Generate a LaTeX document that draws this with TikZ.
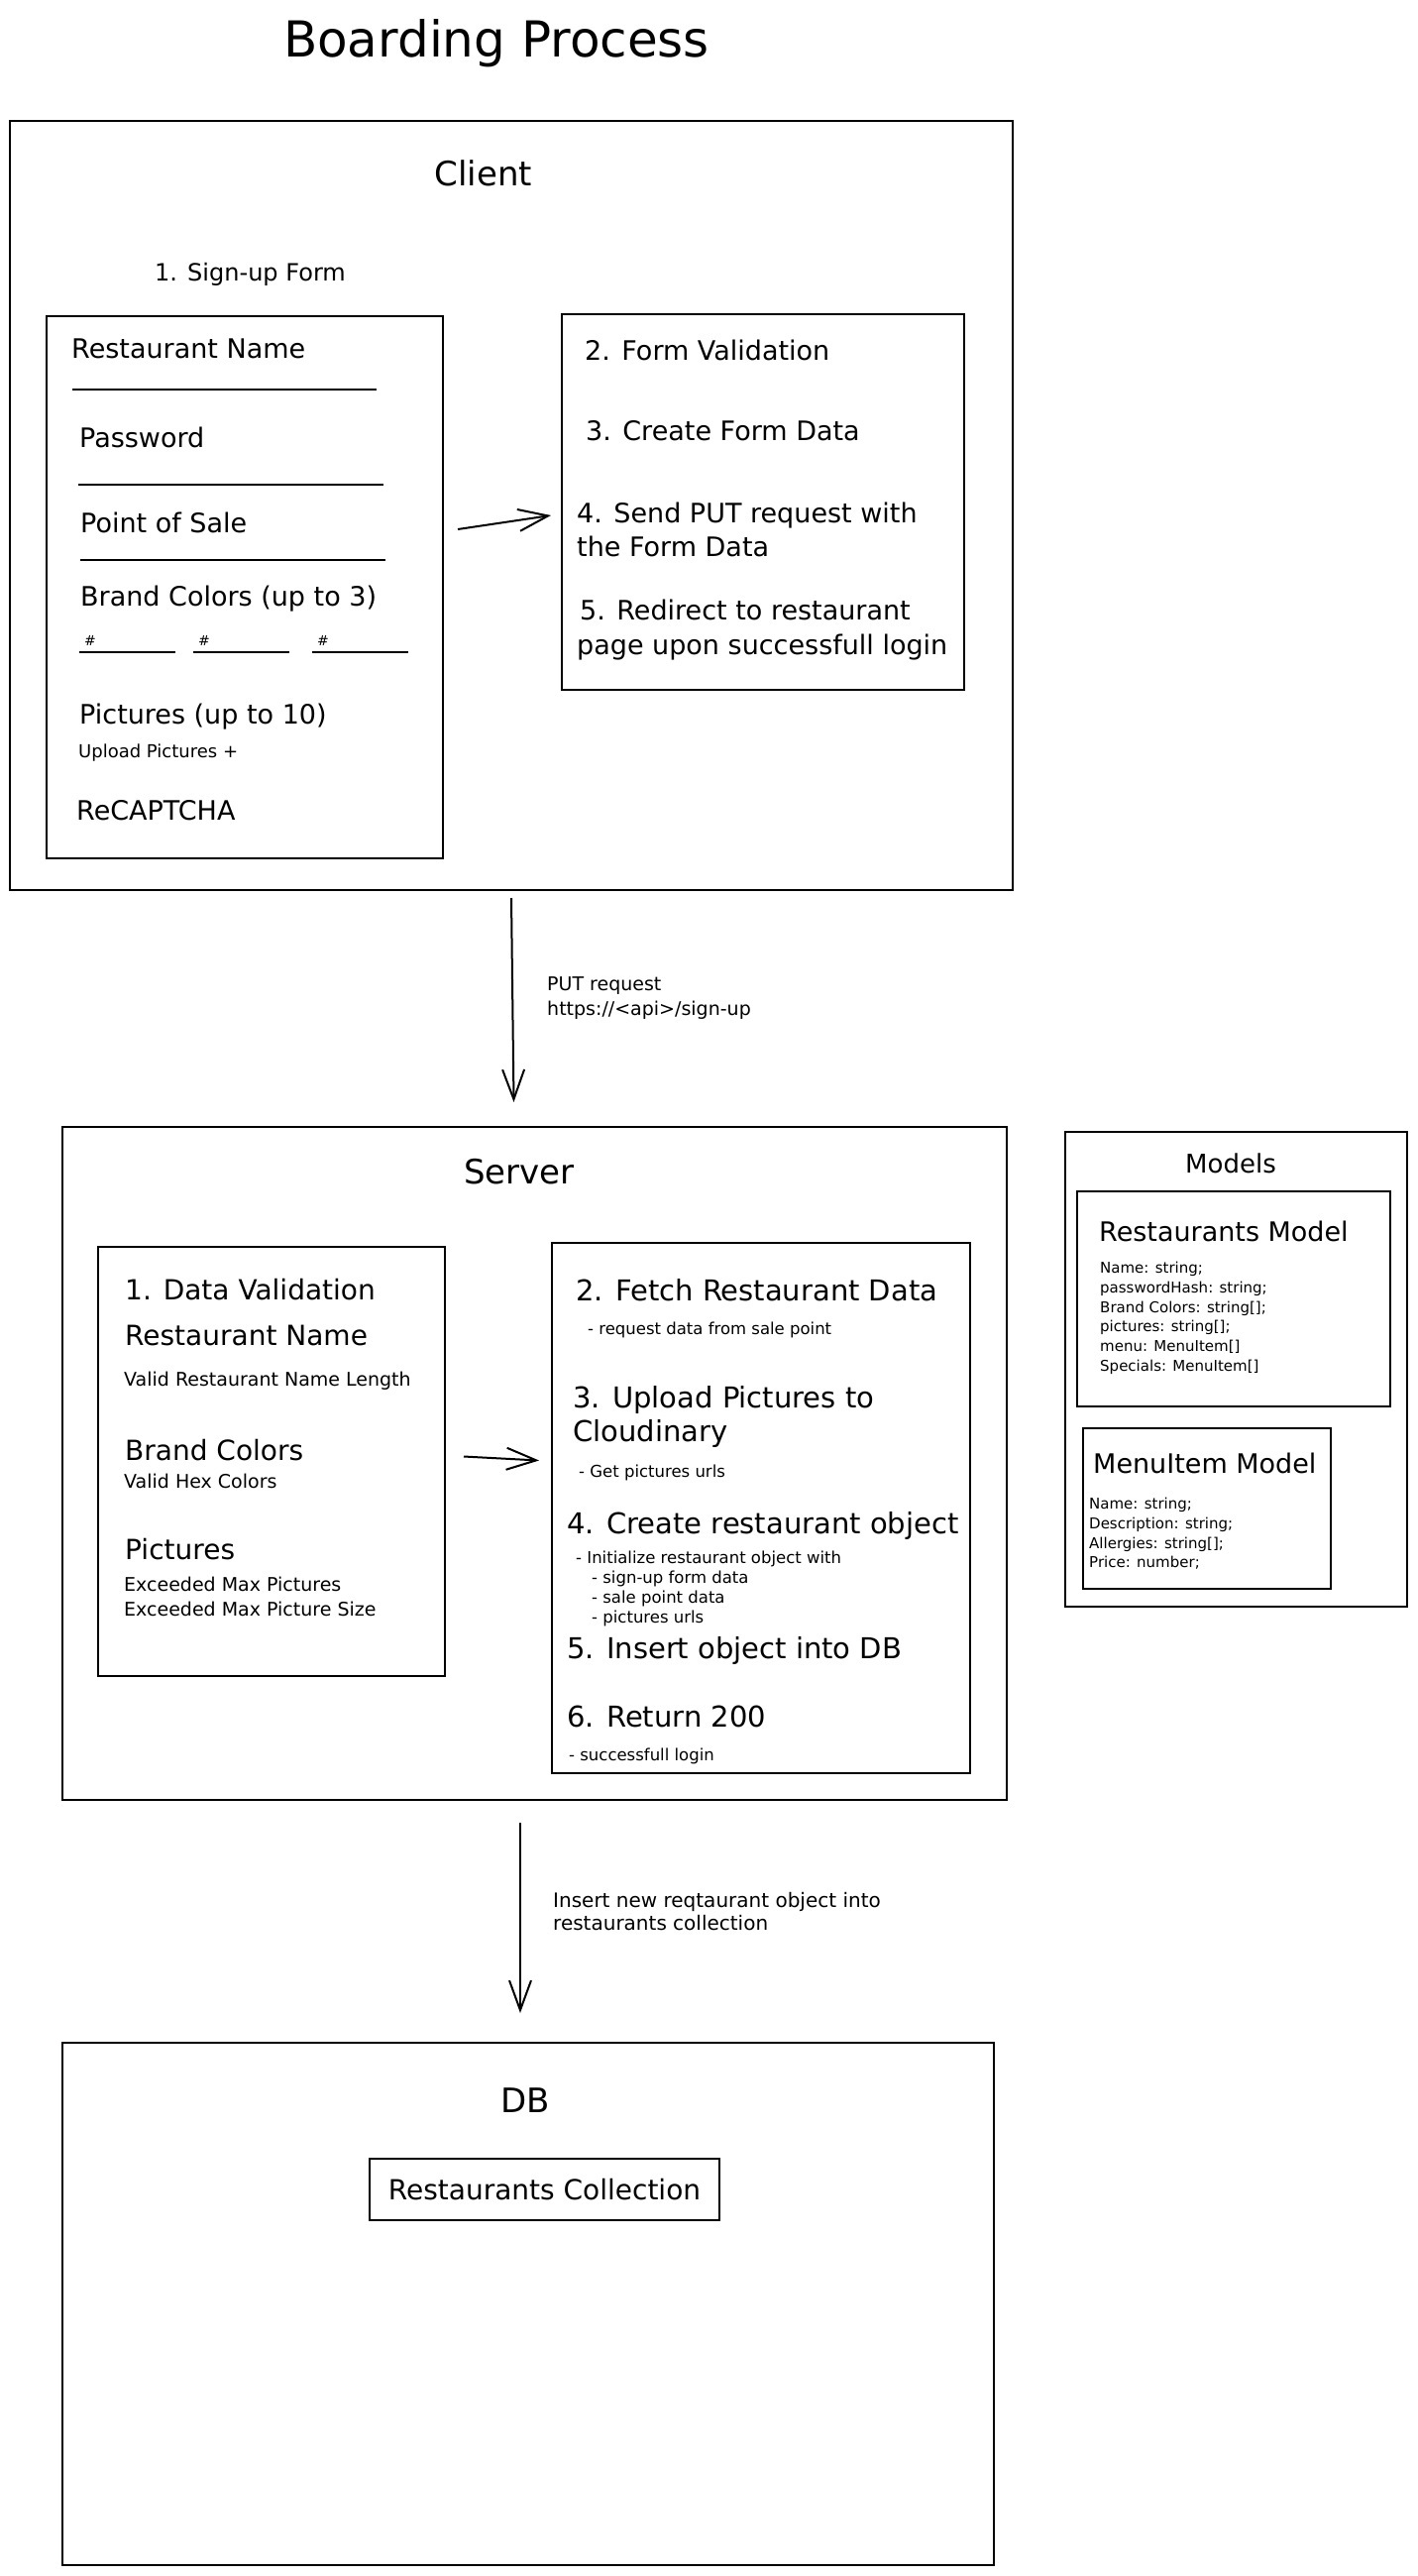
\documentclass[tikz,border=0pt]{standalone}
\usepackage{fontspec}
\setmainfont{DejaVu Sans}
\usetikzlibrary{arrows.meta}

\newcommand\fsz[1]{\fontsize{#1}{#1}\selectfont}

\begin{document}
\begin{tikzpicture}[x = 1pt, y = -1pt, every node/.style = {inner sep = 0pt},
	box/.style = {draw = black, line width = 2pt, rectangle},
	txt/.style = {anchor = mid west, font = \fsz{#1}, yshift = {-0.26*#1 pt}}, txt/.default = 27,
	head/.style = {anchor = mid, font = \fsz{34}, yshift = -9pt},
	arr/.style = {-{Straight Barb[length = 30pt, width = 22pt]}, line width = 2pt}]

	\useasboundingbox (0, 0) rectangle (1430, 2599);

		\node (title) at (501, 57) [anchor = base, font = \fsz{50}] {Boarding Process};

		\node (client)    at ( 516,  510) [box, minimum width = 1012pt, minimum height = 776pt] {};
		\node (clientlbl) at ( 488,  176) [head] {Client};
		\node (signup)    at ( 156,  275) [txt = 24] {1. Sign-up Form};
		\node (form)      at ( 247,  592) [box, minimum width = 400pt, minimum height = 547pt] {};
		\node (steps)     at ( 770,  506) [box, minimum width = 406pt, minimum height = 379pt] {};

		\foreach \name/\x/\y/\txt in {rname/72/352/Restaurant Name, pwd/80/442/Password,
			pos/81/528/Point of Sale, colors/81/602/Brand Colors (up to 3),
			pics/80/721/Pictures (up to 10), captcha/77/818/ReCAPTCHA}
			\node (\name) at (\x, \y) [txt] {\txt};
		\node (upload) at (79, 757) [txt = 18] {Upload Pictures +};

		\foreach \y/\a/\b in {393/73/380, 489/79/387, 565/81/389}
			\draw [line width = 2pt] (\a, \y) -- (\b, \y);
		\foreach \a in {80, 195, 315} {
			\draw [line width = 2pt] (\a, 658) -- ++(97, 0);
			\node (hash\a) at (\a + 11, 646) [font = \fsz{14}] {\#};
		}

		\foreach \name/\x/\y/\txt in {val/590/354/2. Form Validation, fdata/591/435/3. Create Form Data,
			put/582/518/4. Send PUT request with, put2/582/552/the Form Data,
			redir/585/616/5. Redirect to restaurant, redir2/582/651/page upon successfull login}
			\node (\name) at (\x, \y) [txt] {\txt};

		\draw [arr] ([xshift = 14pt, yshift = 58pt]form.east) -- ([xshift = -10pt, yshift = -14pt]steps.west);

		\node (server)    at ( 539.5, 1476.5) [box, minimum width = 953pt, minimum height = 679pt] {};
		\node (serverlbl) at ( 524, 1183) [head] {Server};
		\node (valid)     at ( 274, 1474.5) [box, minimum width = 350pt, minimum height = 433pt] {};
		\node (tasks)     at ( 768, 1521.5) [box, minimum width = 422pt, minimum height = 535pt] {};

		\draw [arr] ([yshift = -7pt]client.south) -- ([xshift = -21pt, yshift = 24pt]server.north);
		\node (putlbl) at (552,  992) [txt = 19] {PUT request};
		\node (urllbl) at (552, 1017) [txt = 19] {https://<api>/sign-up};

		\foreach \name/\y/\txt in {dval/1301/1. Data Validation, vname/1347/Restaurant Name,
			vcolors/1463/Brand Colors, vpics/1563/Pictures}
			\node (\name) at (126, \y) [txt = 28] {\txt};
		\foreach \name/\y/\txt in {lenchk/1391/Valid Restaurant Name Length, hexchk/1494/Valid Hex Colors,
			maxpics/1598/Exceeded Max Pictures, maxsize/1623/Exceeded Max Picture Size}
			\node (\name) at (125, \y) [txt = 19] {\txt};

		\foreach \name/\x/\y/\txt in {fetch/581/1302/2. Fetch Restaurant Data, upl/578/1410/3. Upload Pictures to,
			upl2/578/1444/Cloudinary, create/572/1537/4. Create restaurant object,
			insert/572/1663/5. Insert object into DB, ret/572/1732/6. Return 200}
			\node (\name) at (\x, \y) [txt = 29] {\txt};
		\foreach \name/\x/\y/\txt in {fetchd/593/1339/- request data from sale point, upld/584/1483/- Get pictures urls,
			created/581/1570/- Initialize restaurant object with, sub1/597/1590/- sign-up form data,
			sub2/597/1610/- sale point data, sub3/597/1630/- pictures urls, retd/574/1769/- successfull login}
			\node (\name) at (\x, \y) [txt = 16.5] {\txt};

		\draw [arr] ([xshift = 18pt, yshift = 5pt]valid.east) -- ([xshift = -12pt, yshift = 48pt]tasks.west);

		\node (models)    at (1247.5, 1381.5) [box, minimum width = 345pt, minimum height = 479pt] {};
		\node (modelslbl) at (1242, 1175) [anchor = mid, font = \fsz{26}, yshift = -6pt] {Models};
		\node (rmodel)    at (1245, 1310.5) [box, minimum width = 316pt, minimum height = 217pt] {};
		\node (rmodellbl) at (1109, 1243) [txt] {Restaurants Model};
		\node (mmodel)    at (1218, 1522) [box, minimum width = 250pt, minimum height = 162pt] {};
		\node (mmodellbl) at (1103, 1477) [txt] {MenuItem Model};

		\foreach \txt [count = \i] in {Name: string;, passwordHash: string;, Brand Colors: string[];,
			pictures: string[];, menu: MenuItem[], Specials: MenuItem[]}
			\node (rattr\i) at (1110, 1258.3 + 19.7*\i) [txt = 15] {\txt};
		\foreach \txt [count = \i] in {Name: string;, Description: string;, Allergies: string[];, Price: number;}
			\node (mattr\i) at (1099, 1496.5 + 19.7*\i) [txt = 15] {\txt};

		\node (db)    at ( 533, 2324.5) [box, minimum width = 940pt, minimum height = 527pt] {};
		\node (dblbl) at ( 530, 2120) [head] {DB};
		\node (coll)  at ( 549.5, 2209) [box, minimum width = 353pt, minimum height = 62pt, font = \fsz{28}] {Restaurants Collection};

		\draw [arr] ([xshift = -14.5pt, yshift = -22pt]server.south) -- ([xshift = -8pt, yshift = 29pt]db.north);
		\node (inslbl)  at (558, 1917) [txt = 20] {Insert new reqtaurant object into};
		\node (inslbl2) at (558, 1940) [txt = 20] {restaurants collection};

\end{tikzpicture}
\end{document}
